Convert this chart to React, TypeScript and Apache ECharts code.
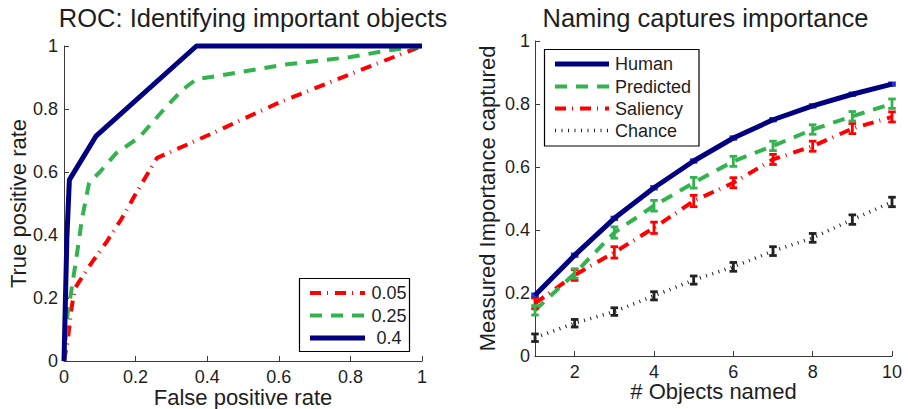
import React, { useEffect, useRef } from "react";
import * as echarts from "echarts";

// ---- Left chart: ROC curves ----
const roc005Fpr = [0, 0.01, 0.02, 0.03, 0.07, 0.12, 0.16, 0.2, 0.26, 0.37, 0.6, 0.82, 1];
const roc005Tpr = [0, 0.06, 0.16, 0.23, 0.3, 0.38, 0.45, 0.53, 0.645, 0.7, 0.82, 0.92, 1];
const roc025Fpr = [0, 0.005, 0.01, 0.02, 0.035, 0.05, 0.07, 0.1, 0.146, 0.21, 0.28, 0.33, 0.37, 0.43, 0.61, 0.8, 0.9, 1];
const roc025Tpr = [0, 0.08, 0.15, 0.22, 0.33, 0.45, 0.565, 0.6, 0.66, 0.71, 0.8, 0.86, 0.895, 0.905, 0.94, 0.965, 0.985, 1];
const roc04Fpr = [0, 0.008, 0.015, 0.09, 0.37, 1];
const roc04Tpr = [0, 0.39, 0.575, 0.715, 1, 1];
const rocLegend = ["0.05", "0.25", "0.4"];

// ---- Right chart: importance captured ----
const objectsNamed = [1, 2, 3, 4, 5, 6, 7, 8, 9, 10];
const human = [0.193, 0.32, 0.437, 0.534, 0.619, 0.692, 0.75, 0.794, 0.831, 0.863];
const humanErr = [0.004, 0.004, 0.004, 0.004, 0.004, 0.004, 0.004, 0.004, 0.004, 0.004];
const predicted = [0.145, 0.262, 0.392, 0.477, 0.55, 0.618, 0.667, 0.719, 0.761, 0.801];
const predictedErr = [0.015, 0.015, 0.018, 0.017, 0.017, 0.016, 0.015, 0.015, 0.015, 0.015];
const saliency = [0.167, 0.257, 0.329, 0.407, 0.492, 0.55, 0.624, 0.666, 0.722, 0.759];
const saliencyErr = [0.017, 0.017, 0.018, 0.018, 0.018, 0.016, 0.016, 0.016, 0.016, 0.016];
const chance = [0.058, 0.104, 0.141, 0.191, 0.241, 0.283, 0.333, 0.375, 0.433, 0.489];
const chanceErr = [0.012, 0.012, 0.012, 0.013, 0.013, 0.014, 0.014, 0.014, 0.015, 0.015];
const importanceLegend = ["Human", "Predicted", "Saliency", "Chance"];
const xTickValues = [2, 4, 6, 8, 10];

const FONT = "Liberation Sans, Arial, Helvetica, sans-serif";
const TXT = "#1e1e1e";
const RED = "#ff0000";
const GREEN = "#33b34d";
const NAVY = "#000080";
const BLACK = "#222222";

const DASHDOT = [11, 6, 1, 7];
const DASHED = [12, 9];
const DOTTED = [1, 5.5];

function pairs(xs: number[], ys: number[]) {
  return xs.map((x, i) => [x, ys[i]]);
}

function errorSeries(name: string, vals: number[], errs: number[], color: string) {
  return {
    type: "custom",
    name,
    xAxisIndex: 1,
    yAxisIndex: 1,
    silent: true,
    z: 3,
    data: objectsNamed.map((x, i) => [x, vals[i], errs[i]]),
    encode: { x: 0, y: 1 },
    renderItem: (params: any, api: any) => {
      const x = api.value(0);
      const y = api.value(1);
      const e = api.value(2);
      const top = api.coord([x, y + e]);
      const bot = api.coord([x, y - e]);
      const w = 3.8;
      const st = { stroke: color, lineWidth: 2.8 };
      return {
        type: "group",
        children: [
          { type: "line", shape: { x1: top[0], y1: top[1], x2: bot[0], y2: bot[1] }, style: st },
          { type: "line", shape: { x1: top[0] - w, y1: top[1], x2: top[0] + w, y2: top[1] }, style: st },
          { type: "line", shape: { x1: bot[0] - w, y1: bot[1], x2: bot[0] + w, y2: bot[1] }, style: st },
        ],
      };
    },
  };
}

function axisCommon() {
  return {
    nameMoveOverlap: false,
    axisLine: { show: true, lineStyle: { color: "#3a3a3a", width: 1 } },
    axisTick: { show: true, inside: true, length: 5, lineStyle: { color: "#3a3a3a", width: 1 } },
    splitLine: { show: false },
    axisLabel: { color: TXT, fontSize: 18, fontFamily: FONT },
    nameTextStyle: { color: TXT, fontSize: 22, fontFamily: FONT },
  };
}

function legendGroup(
  box: { x: number; y: number; w: number; h: number },
  items: { label: string; color: string; width: number; dash: number[] | null }[],
  lineX1: number,
  lineX2: number,
  rowYs: number[],
  textX: number,
  textAlign: string
) {
  const children: any[] = [
    {
      type: "rect",
      shape: { x: box.x, y: box.y, width: box.w, height: box.h },
      style: { fill: "#ffffff", stroke: "#000000", lineWidth: 1.2 },
    },
  ];
  items.forEach((it, i) => {
    children.push({
      type: "line",
      shape: { x1: lineX1, y1: rowYs[i], x2: lineX2, y2: rowYs[i] },
      style: { stroke: it.color, lineWidth: it.width, lineDash: it.dash || undefined },
    });
    children.push({
      type: "text",
      x: textX,
      y: rowYs[i],
      style: {
        text: it.label,
        fill: TXT,
        fontSize: 18,
        fontFamily: FONT,
        align: textAlign,
        verticalAlign: "middle",
      },
    });
  });
  return { type: "group", z: 100, children };
}

export default function App() {
  const ref = useRef<HTMLDivElement>(null);

  useEffect(() => {
    if (!ref.current) return;
    const chart = echarts.init(ref.current, null, { renderer: "svg" });
    const ac = axisCommon();

    const option: any = {
      animation: false,
      backgroundColor: "#ffffff",
      grid: [
        { left: 64, top: 46, width: 358, height: 315, containLabel: false, outerBoundsMode: "none" },
        { left: 535, top: 41, width: 357, height: 315, containLabel: false, outerBoundsMode: "none" },
      ],
      xAxis: [
        {
          ...ac,
          gridIndex: 0,
          type: "value",
          min: 0,
          max: 1,
          interval: 0.2,
          name: "False positive rate",
          nameLocation: "middle",
          nameGap: 27,
          nameTextStyle: { ...ac.nameTextStyle, lineHeight: 18 },
          axisLabel: { ...ac.axisLabel, margin: 9, lineHeight: 14 },
        },
        {
          ...ac,
          gridIndex: 1,
          type: "value",
          min: 1,
          max: 10,
          name: "# Objects named",
          nameLocation: "middle",
          nameGap: 26,
          nameTextStyle: { ...ac.nameTextStyle, lineHeight: 18 },
          axisTick: { ...ac.axisTick, customValues: xTickValues },
          axisLabel: { ...ac.axisLabel, margin: 9, lineHeight: 14, customValues: xTickValues },
        },
      ],
      yAxis: [
        {
          ...ac,
          gridIndex: 0,
          type: "value",
          min: 0,
          max: 1,
          interval: 0.2,
          name: "True positive rate",
          nameLocation: "middle",
          nameGap: 35,
          axisLabel: { ...ac.axisLabel, margin: 6 },
        },
        {
          ...ac,
          gridIndex: 1,
          type: "value",
          min: 0,
          max: 1,
          interval: 0.2,
          name: "Measured Importance captured",
          nameLocation: "middle",
          nameGap: 37,
          axisLabel: { ...ac.axisLabel, margin: 5 },
        },
      ],
      series: [
        {
          type: "line",
          name: rocLegend[0],
          xAxisIndex: 0,
          yAxisIndex: 0,
          data: pairs(roc005Fpr, roc005Tpr),
          symbol: "none",
          clip: false,
          lineStyle: { color: RED, width: 4, type: DASHDOT, cap: "butt" },
          z: 2,
        },
        {
          type: "line",
          name: rocLegend[1],
          xAxisIndex: 0,
          yAxisIndex: 0,
          data: pairs(roc025Fpr, roc025Tpr),
          symbol: "none",
          clip: false,
          lineStyle: { color: GREEN, width: 4, type: DASHED, cap: "butt" },
          z: 3,
        },
        {
          type: "line",
          name: rocLegend[2],
          xAxisIndex: 0,
          yAxisIndex: 0,
          data: pairs(roc04Fpr, roc04Tpr),
          symbol: "none",
          clip: false,
          lineStyle: { color: NAVY, width: 5 },
          z: 4,
        },
        {
          type: "line",
          name: importanceLegend[3],
          xAxisIndex: 1,
          yAxisIndex: 1,
          data: pairs(objectsNamed, chance),
          symbol: "none",
          clip: false,
          lineStyle: { color: BLACK, width: 3.5, type: DOTTED, cap: "butt" },
          z: 2,
        },
        errorSeries("chanceErr", chance, chanceErr, BLACK),
        {
          type: "line",
          name: importanceLegend[2],
          xAxisIndex: 1,
          yAxisIndex: 1,
          data: pairs(objectsNamed, saliency),
          symbol: "none",
          clip: false,
          lineStyle: { color: RED, width: 4, type: DASHDOT, cap: "butt" },
          z: 2,
        },
        errorSeries("saliencyErr", saliency, saliencyErr, RED),
        {
          type: "line",
          name: importanceLegend[1],
          xAxisIndex: 1,
          yAxisIndex: 1,
          data: pairs(objectsNamed, predicted),
          symbol: "none",
          clip: false,
          lineStyle: { color: GREEN, width: 4, type: DASHED, cap: "butt" },
          z: 2,
        },
        errorSeries("predictedErr", predicted, predictedErr, GREEN),
        {
          type: "line",
          name: importanceLegend[0],
          xAxisIndex: 1,
          yAxisIndex: 1,
          data: pairs(objectsNamed, human),
          symbol: "none",
          clip: false,
          lineStyle: { color: NAVY, width: 5 },
          z: 4,
        },
        errorSeries("humanErr", human, humanErr, "#2233cc"),
      ],
      graphic: [
        {
          type: "text",
          x: 253,
          y: 18,
          style: {
            text: "ROC: Identifying important objects",
            fill: TXT,
            fontSize: 25.5,
            fontFamily: FONT,
            align: "center",
            verticalAlign: "middle",
          },
        },
        {
          type: "text",
          x: 705.5,
          y: 18,
          style: {
            text: "Naming captures importance",
            fill: TXT,
            fontSize: 25.5,
            fontFamily: FONT,
            align: "center",
            verticalAlign: "middle",
          },
        },
        legendGroup(
          { x: 299.5, y: 278.5, w: 110, h: 73 },
          [
            { label: rocLegend[0], color: RED, width: 4, dash: DASHDOT },
            { label: rocLegend[1], color: GREEN, width: 4, dash: DASHED },
            { label: rocLegend[2], color: NAVY, width: 5, dash: null },
          ],
          310,
          365,
          [293, 315.5, 338],
          389,
          "center"
        ),
        legendGroup(
          { x: 544.5, y: 49.5, w: 154.5, h: 96.5 },
          [
            { label: importanceLegend[0], color: NAVY, width: 5, dash: null },
            { label: importanceLegend[1], color: GREEN, width: 4, dash: DASHED },
            { label: importanceLegend[2], color: RED, width: 4, dash: DASHDOT },
            { label: importanceLegend[3], color: BLACK, width: 3.5, dash: DOTTED },
          ],
          555,
          609,
          [64, 86.5, 108.5, 130.5],
          615,
          "left"
        ),
      ],
    };

    chart.setOption(option);
    return () => chart.dispose();
  }, []);

  return (
    <div
      ref={ref}
      style={{ position: "fixed", left: 0, top: 0, width: 908, height: 409, background: "#fff" }}
    />
  );
}
